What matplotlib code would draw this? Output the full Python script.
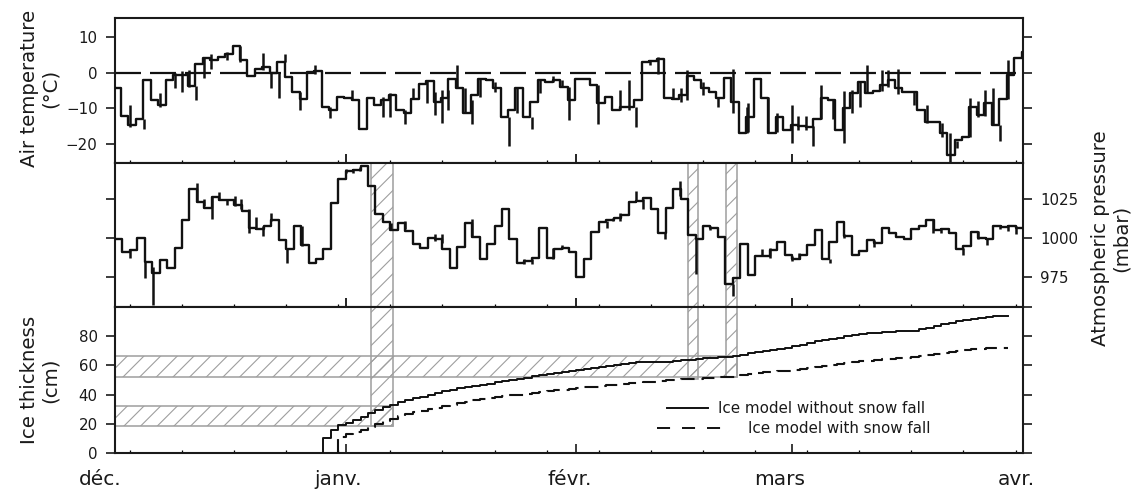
import numpy as np
import matplotlib
matplotlib.use("Agg")
import matplotlib.pyplot as plt
from matplotlib.patches import Rectangle
import matplotlib.transforms as mtransforms

plt.rcParams['font.family'] = ['DejaVu Sans']
plt.rcParams['hatch.linewidth'] = 0.8
plt.rcParams['lines.scale_dashes'] = False

# ---------------- data ----------------
month_ticks = [0, 31, 62, 91, 122]
month_labels = ['déc.', 'janv.', 'févr.', 'mars', 'avr.']
week_ticks = list(range(2, 122, 7))

# daily air temperature (°C), one value per day starting at day-0.2
air_temp = [-4.4, -12.0, -14.6, -12.8, -2.1, -7.7, -8.9, -2.1, -0.8, -0.7,
            -3.8, 2.5, 4.2, 3.4, 4.4, 5.3, 7.4, 3.6, -1.0, 1.1,
            1.6, -0.1, 3.0, -1.2, -5.4, -7.5, 0.2, 0.4, -9.7, -10.3,
            -6.8, -7.0, -7.7, -15.8, -7.2, -9.1, -7.7, -6.3, -10.5, -11.4,
            -7.5, -3.1, -2.3, -8.1, -7.2, -1.7, -4.4, -11.4, -6.3, -1.9,
            -2.1, -4.2, -12.3, -10.5, -4.4, -12.3, -8.1, -2.1, -2.6, -2.1,
            -4.0, -7.7, -1.7, -1.9, -3.5, -8.6, -6.8, -10.5, -9.5, -9.5,
            -7.7, 3.0, 3.1, 3.9, -7.0, -7.5, -6.3, -1.0, -2.1, -4.2,
            -5.4, -7.2, -1.4, -8.1, -16.9, -12.3, -1.7, -7.2, -16.8, -12.3,
            -16.0, -14.6, -14.9, -15.1, -12.8, -7.2, -7.7, -16.0, -10.0, -5.8,
            -2.6, -5.6, -5.0, -3.5, -2.0, -4.4, -5.4, -5.4, -10.5, -13.7,
            -13.7, -16.8, -23.0, -18.8, -17.9, -9.5, -11.9, -8.6, -14.6, -7.5,
            -0.7, 4.0, 5.8]

# short excursions of temperature (day, high, low)
temp_spike_day = [2.0, 3.9, 6.0, 8.1, 9.0, 9.9, 10.9, 12.0, 12.9, 15.0, 16.8, 19.9,
                  21.0, 22.1, 22.8, 24.9, 26.9, 28.9, 31.9, 36.0, 36.9, 39.0, 40.1,
                  41.9, 43.0, 43.9, 44.8, 45.9, 47.0, 47.9, 49.0, 51.1, 53.0, 54.0,
                  56.0, 57.1, 58.9, 60.0, 61.0, 64.9, 67.9, 69.0, 70.0, 71.9, 72.9,
                  75.0, 76.1, 76.8, 79.0, 81.0, 83.0, 84.9, 85.1, 87.8, 88.9, 90.9,
                  91.8, 92.9, 93.8, 94.8, 96.5, 97.9, 99.0, 100.1, 101.0, 103.0,
                  103.9, 105.2, 107.3, 109.1, 111.1, 112.2, 113.1, 114.9, 116.0,
                  116.9, 118.0, 118.9, 120.0]
temp_spike_hi = [-9.1, -12.8, -5.8, -0.1, 0.4, 0.6, -3.8, 4.2, 5.2, 5.7, 7.4, 5.4,
                 -0.1, -0.1, 5.3, -5.4, 2.0, -9.7, -4.9, -6.8, -5.8, -10.5, -4.4,
                 -2.1, -5.3, -4.9, -4.9, 2.0, -4.4, -7.7, -1.7, -2.6, -12.3, -4.4,
                 -12.3, -1.7, -1.0, -2.0, -4.0, -3.5, -4.9, -2.1, -9.5, 3.4, 4.4,
                 -4.4, -4.4, 0.6, -2.6, -7.2, 1.0, -9.5, -8.6, -6.7, -11.4, -9.0,
                 -12.0, -12.0, -15.0, -3.5, -7.7, -5.0, -4.9, -2.6, 2.0, 0.6,
                 0.6, 1.0, -5.4, -9.0, -14.0, -16.8, -19.0, -7.2, -8.0,
                 -4.9, -4.4, -14.6, 3.4]
temp_spike_lo = [-15.1, -15.8, -9.7, -4.2, -5.4, -4.0, -7.7, -1.4, 1.1, 3.4, 3.0, 0.6,
                 -4.4, -7.2, 3.0, -10.5, -0.3, -12.7, -7.7, -12.3, -12.3, -14.2, -7.5,
                 -8.6, -11.8, -14.1, -10.5, -4.4, -11.4, -14.2, -6.7, -5.4, -20.6, -11.4,
                 -15.6, -5.8, -2.6, -4.0, -13.1, -14.2, -10.5, -10.5, -15.1, 2.0, -0.3,
                 -7.5, -8.1, -7.7, -6.3, -9.5, -11.4, -16.9, -16.5, -16.9, -16.5, -19.7,
                 -16.0, -16.0, -20.6, -12.8, -12.8, -19.7, -11.4, -9.5, -5.6, -5.0,
                 -4.0, -6.0, -9.0, -14.0, -18.0, -25.0, -21.0, -18.0, -12.5,
                 -12.0, -14.6, -19.0, -7.5]

# daily atmospheric pressure (mbar), one value per day
pressure = [999.5, 991.0, 992.0, 1000.1, 984.4, 977.5, 985.7, 980.7, 993.6, 1011.5,
            1031.3, 1023.1, 1019.5, 1026.4, 1024.4, 1024.4, 1021.2, 1017.3, 1006.6, 1006.0,
            1007.6, 1011.5, 998.4, 993.0, 1008.0, 995.2, 984.0, 986.1, 993.0, 1022.7,
            1038.2, 1043.2, 1044.2, 1046.4, 1033.5, 1015.2, 1010.2, 1005.1, 1009.8, 1004.4,
            995.8, 993.6, 1000.1, 999.5, 992.6, 980.7, 994.3, 1009.4, 1000.8, 986.5,
            996.4, 1007.6, 1018.4, 999.5, 983.5, 985.0, 987.2, 1006.6, 987.2, 993.0,
            993.6, 990.8, 974.9, 986.5, 1003.8, 1010.2, 1011.3, 1013.0, 1014.5, 1023.1,
            1023.8, 1025.9, 1018.8, 1003.3, 1019.5, 1031.3, 1025.3, 1001.6, 999.0, 1008.0,
            1006.6, 1000.8, 970.0, 974.3, 995.8, 975.8, 988.3, 988.6, 992.1, 997.3,
            989.3, 986.5, 989.3, 995.2, 1005.1, 986.5, 997.3, 1010.2, 1001.2, 989.3,
            991.5, 998.6, 996.9, 1006.6, 1002.9, 1000.8, 999.5, 1005.5, 1007.6, 1011.5,
            1005.1, 1005.5, 1002.9, 993.0, 994.7, 1003.8, 1000.1, 999.5, 1007.6, 1007.0,
            1007.6, 1006.6]

press_spike_day = [2.0, 4.0, 5.1, 11.0, 12.0, 13.0, 14.0, 15.0, 16.1, 16.9, 18.0, 18.9,
                   19.9, 21.0, 23.1, 25.1, 31.1, 32.0, 32.9, 37.1, 39.0, 43.0, 43.9,
                   47.9, 55.0, 56.0, 58.9, 60.0, 66.1, 66.9, 67.8, 70.0, 71.0, 73.9,
                   75.9, 78.0, 79.9, 83.0, 86.9, 88.0, 90.9, 91.9, 96.1, 97.9, 102.0,
                   109.9, 111.0, 114.0, 116.0, 117.1, 118.9, 120.0, 121.1]
press_spike_hi = [992.6, 984.4, 981.4, 1035.6, 1025.3, 1026.6, 1029.6, 1024.9, 1027.0,
                  1025.3, 1018.4, 1013.7, 1007.6, 1015.8, 993.0, 1008.0, 1044.7, 1044.2,
                  1046.0, 1009.8, 1010.9, 1002.3, 1002.3, 1012.0, 986.1, 986.1, 993.6,
                  995.2, 1010.9, 1013.0, 1016.3, 1030.3, 1025.3, 1003.3, 1036.7, 999.0,
                  1008.0, 970.0, 992.6, 993.6, 988.3, 990.4, 986.5, 1002.3, 998.6,
                  1011.5, 1005.5, 993.6, 1004.4, 1000.1, 1008.0, 1007.6, 1007.6]
press_spike_lo = [987.2, 974.3, 957.0, 1023.1, 1020.6, 1012.0, 1024.4, 1021.0, 1020.6,
                  1018.4, 1003.3, 1005.5, 1001.2, 1010.9, 984.0, 994.7, 1041.7, 1041.7,
                  1043.2, 1005.5, 1005.5, 998.0, 996.9, 1000.8, 982.9, 982.9, 986.1,
                  992.6, 1006.6, 1010.9, 1010.9, 1023.8, 1018.8, 999.0, 1027.0, 976.4,
                  1005.1, 962.4, 988.3, 987.2, 985.0, 986.5, 983.5, 1000.1, 994.3,
                  1002.9, 1003.3, 989.3, 999.0, 995.2, 1005.9, 1004.4, 1002.3]

# ice thickness (cm)
ice_nosnow_days = list(range(28, 121))
ice_nosnow = [10.5, 15.5, 18.9, 20.8, 22.8, 25.0, 27.3, 29.5, 31.3, 33.0,
              34.8, 36.2, 37.4, 38.6, 39.8, 41.0, 42.2, 43.2, 44.2, 45.1,
              46.0, 46.8, 47.6, 48.4, 49.2, 50.0, 50.8, 51.6, 52.4, 53.2,
              54.0, 54.7, 55.4, 56.2, 57.0, 57.8, 58.5, 59.2, 59.8, 60.5,
              61.1, 61.7, 62.3, 62.5, 62.3, 62.0, 62.2, 62.8, 63.4, 63.9,
              64.4, 64.8, 65.2, 65.6, 66.0, 66.3, 67.0, 68.2, 69.2, 70.0,
              70.7, 71.4, 72.2, 73.2, 74.3, 75.4, 76.4, 77.3, 78.2, 79.1,
              80.0, 80.8, 81.4, 82.0, 82.4, 82.8, 83.1, 83.4, 83.6, 83.8,
              84.6, 85.8, 87.0, 88.2, 89.3, 90.3, 91.1, 91.8, 92.5, 93.1,
              93.6, 94.0, 94.0]
ice_snow_days = list(range(30, 121))
ice_snow = [11.0, 12.8, 14.5, 16.0, 17.8, 19.8, 21.8, 23.5, 25.2, 26.6,
            27.8, 28.9, 30.0, 31.0, 32.2, 33.2, 34.2, 35.2, 36.2, 37.1,
            37.7, 38.3, 38.9, 39.4, 39.9, 40.5, 41.1, 41.7, 42.3, 42.9,
            43.4, 43.9, 44.4, 44.9, 45.4, 45.9, 46.4, 46.9, 47.3, 47.7,
            48.1, 48.5, 48.9, 49.3, 49.7, 50.1, 50.4, 50.7, 51.0, 51.3,
            51.6, 51.9, 52.1, 52.3, 53.2, 54.3, 55.0, 55.4, 55.7, 56.0,
            56.3, 56.8, 57.4, 58.0, 58.7, 59.4, 60.2, 61.0, 61.7, 62.3,
            62.8, 63.3, 63.7, 64.1, 64.5, 64.9, 65.3, 65.8, 66.4, 67.2,
            68.0, 68.8, 69.5, 70.1, 70.6, 71.0, 71.4, 71.7, 71.9, 72.0,
            72.0]

# highlighted events: (start day, end day, ice thickness low)
event_start = [34.35, 77.03, 82.09]
event_end = [37.39, 78.37, 83.53]
event_ice_low = [18.2, 51.0, 52.0]
ice_band_low = [18.2, 52.3]
ice_band_high = [31.9, 66.2]
ice_band_end = [37.39, 83.53]

# ---------------- figure ----------------
LINE = '#111111'
HATCH = '#9e9e9e'
TXT = '#1a1a1a'

fig = plt.figure(figsize=(11.36, 4.91), dpi=100)
L, W = 115 / 1136, 908 / 1136
ax1 = fig.add_axes([L, 1 - 163 / 491, W, (163 - 17.7) / 491])
ax2 = fig.add_axes([L, 1 - 307 / 491, W, (307 - 163) / 491])
ax3 = fig.add_axes([L, 1 - 453 / 491, W, (453 - 307) / 491])

for ax in (ax1, ax2, ax3):
    ax.set_xlim(0, 122)
    ax.set_xticks(month_ticks)
    ax.set_xticks(week_ticks, minor=True)
    ax.tick_params(axis='x', which='major', direction='in', length=6.5, width=1.2,
                   bottom=True, top=False, labelbottom=False)
    ax.tick_params(axis='x', which='minor', direction='in', length=2.5, width=0.9,
                   bottom=True, top=False)
    ax.tick_params(axis='y', direction='out', length=6.5, width=1.2, labelsize=10.8,
                   pad=6.0, left=True, right=True, colors=TXT)
    for s in ax.spines.values():
        s.set_linewidth(1.5)
        s.set_color(TXT)

# --- top: air temperature
t_days = np.arange(len(air_temp)) - 0.2
ax1.plot(np.r_[t_days, 122.5], np.r_[air_temp, air_temp[-1]], drawstyle='steps-post',
         color=LINE, lw=1.7, zorder=3)
ax1.vlines(temp_spike_day, temp_spike_lo, temp_spike_hi, color=LINE, lw=1.8, zorder=3)
ax1.axhline(0, color=LINE, lw=1.6, dashes=(18.7, 6.5), zorder=2)
ax1.set_ylim(-25.2, 15.3)
ax1.set_yticks([-20, -10, 0, 10])
ax1.tick_params(axis='y', labelleft=True, labelright=False)

# --- middle: pressure
p_days = np.arange(len(pressure))
ax2.plot(np.r_[p_days, 122.5], np.r_[pressure, pressure[-1]], drawstyle='steps-post',
         color=LINE, lw=1.7, zorder=3)
ax2.vlines(press_spike_day, press_spike_lo, press_spike_hi, color=LINE, lw=1.8, zorder=3)
ax2.set_ylim(955.4, 1048.4)
ax2.set_yticks([975, 1000, 1025])
ax2.tick_params(axis='y', labelleft=False, labelright=True)

for a, b in zip(event_start, event_end):
    ax2.add_patch(Rectangle((a, 955.4), b - a, 1048.4 - 955.4, facecolor='none',
                            edgecolor=HATCH, hatch='//', lw=1.1, zorder=1))

# --- bottom: ice thickness
for a, b, lo in zip(event_start, event_end, event_ice_low):
    ax3.add_patch(Rectangle((a, lo), b - a, 100 - lo, facecolor='none',
                            edgecolor=HATCH, hatch='//', lw=1.1, zorder=1))
for lo, hi, e in zip(ice_band_low, ice_band_high, ice_band_end):
    ax3.add_patch(Rectangle((0, lo), e, hi - lo, facecolor='none',
                            edgecolor=HATCH, hatch='//', lw=1.1, zorder=1))

ax3.plot(np.r_[ice_nosnow_days[0], ice_nosnow_days], np.r_[0, ice_nosnow],
         drawstyle='steps-post', color=LINE, lw=1.4, zorder=3)
ax3.plot(np.r_[ice_snow_days[0] - 0.1, ice_snow_days], np.r_[0, ice_snow],
         drawstyle='steps-post', color=LINE, lw=1.5, dashes=(10.0, 5.0), zorder=3)
ax3.set_ylim(0, 100)
ax3.set_yticks([0, 20, 40, 60, 80, 100])
ax3.set_yticklabels(['0', '20', '40', '60', '80', ''])
ax3.tick_params(axis='y', labelleft=True, labelright=False)
ax3.yaxis.get_major_ticks()[-1].tick1line.set_visible(False)

ax3.set_xticklabels(month_labels)
ax3.tick_params(axis='x', which='major', labelbottom=True, labelsize=14.5, pad=12.5,
                colors=TXT)
label_shift_px = [-15, -8, -7, -13, -7]
for lab, dx in zip(ax3.get_xticklabels(), label_shift_px):
    lab.set_transform(lab.get_transform() +
                      mtransforms.ScaledTranslation(dx / 100, 0, fig.dpi_scale_trans))

# legend drawn by hand
ax3.plot([0.6079, 0.6531], [0.3082, 0.3082], transform=ax3.transAxes, color=LINE, lw=1.4)
ax3.text(0.6641, 0.3082, 'Ice model without snow fall', transform=ax3.transAxes,
         ha='left', va='center', fontsize=10.9, color=TXT)
ax3.plot([0.5969, 0.6696], [0.1712, 0.1712], transform=ax3.transAxes, color=LINE, lw=1.4,
         dashes=(9.4, 8.6))
ax3.text(0.6971, 0.1712, 'Ice model with snow fall', transform=ax3.transAxes,
         ha='left', va='center', fontsize=10.9, color=TXT)

# axis titles
fig.text(40 / 1136, 1 - 88 / 491, 'Air temperature\n(°C)', rotation=90, ha='center',
         va='center', multialignment='center', fontsize=14.2, color=TXT, linespacing=1.15)
fig.text(40 / 1136, 1 - 380 / 491, 'Ice thickness\n(cm)', rotation=90, ha='center',
         va='center', multialignment='center', fontsize=14.2, color=TXT, linespacing=1.15)
fig.text(1111 / 1136, 1 - 238 / 491, 'Atmospheric pressure\n(mbar)', rotation=90,
         ha='center', va='center', multialignment='center', fontsize=14.2,
         color=TXT, linespacing=1.15)

fig.savefig('out.png', dpi=100)
